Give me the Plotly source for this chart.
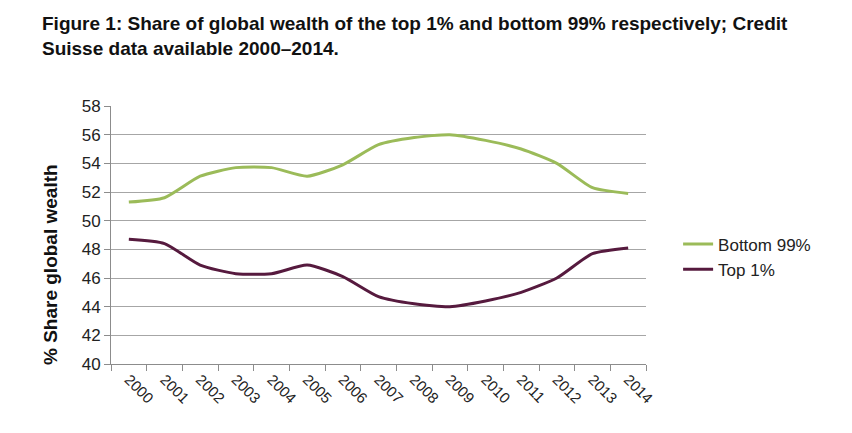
import plotly.graph_objects as go

years = ["2000", "2001", "2002", "2003", "2004", "2005", "2006", "2007",
         "2008", "2009", "2010", "2011", "2012", "2013", "2014"]
bottom99 = [51.3, 51.6, 53.1, 53.7, 53.7, 53.1, 53.9, 55.3, 55.8, 56.0, 55.6, 55.0, 54.0, 52.3, 51.9]
top1 = [48.7, 48.4, 46.9, 46.3, 46.3, 46.9, 46.1, 44.7, 44.2, 44.0, 44.4, 45.0, 46.0, 47.7, 48.1]

fig = go.Figure()
fig.add_trace(go.Scatter(x=years, y=bottom99, name="Bottom 99%", mode="lines",
                         line=dict(color="#9BBB59", width=3, shape="spline", smoothing=0.6)))
fig.add_trace(go.Scatter(x=years, y=top1, name="Top 1%", mode="lines",
                         line=dict(color="#561A3E", width=3, shape="spline", smoothing=0.6)))

W, H = 836, 417
L, R, T, B = 103, 198, 98, 61
PW, PH = W - L - R, H - T - B
fig.update_layout(
    width=W, height=H,
    paper_bgcolor="white", plot_bgcolor="white",
    margin=dict(l=L, r=R, t=T, b=B),
    font=dict(family="Liberation Sans, Arial, sans-serif", color="#222222"),
    showlegend=True,
    legend=dict(x=1.06, y=(H - B - 249) / PH, xanchor="left", yanchor="middle",
                font=dict(size=17, color="#222222"), itemwidth=30,
                tracegroupgap=0, bgcolor="rgba(0,0,0,0)"),
)
fig.add_annotation(text="<b>Figure 1: Share of global wealth of the top 1% and bottom 99% respectively; Credit<br>Suisse data available 2000\u20132014.</b>",
                   xref="paper", yref="paper", x=(32 - L) / PW, y=1, xanchor="left", yanchor="top",
                   yshift=T - 3, align="left", showarrow=False,
                   font=dict(size=19, color="#111111"))
fig.add_annotation(text="<b>% Share global wealth</b>", textangle=-90,
                   xref="paper", yref="paper", x=(42 - L) / PW, y=(H - B - 257) / PH,
                   xanchor="center", yanchor="middle", showarrow=False,
                   font=dict(size=19, color="#111111"))
fig.update_xaxes(type="category", showline=True, linecolor="#8C8C8C", linewidth=1,
                 ticks="outside", tickson="boundaries", ticklen=6, tickcolor="#8C8C8C",
                 tickangle=45, tickfont=dict(size=15, color="#222222"),
                 showgrid=False, range=[-0.5, 14.5])
fig.update_yaxes(range=[40, 58], dtick=2, showgrid=True, gridcolor="#A6A6A6", gridwidth=1,
                 showline=True, linecolor="#8C8C8C", linewidth=1,
                 ticks="outside", ticklen=6, tickcolor="#8C8C8C",
                 tickfont=dict(size=17, color="#222222"), zeroline=False)

fig.write_html("out.html")
